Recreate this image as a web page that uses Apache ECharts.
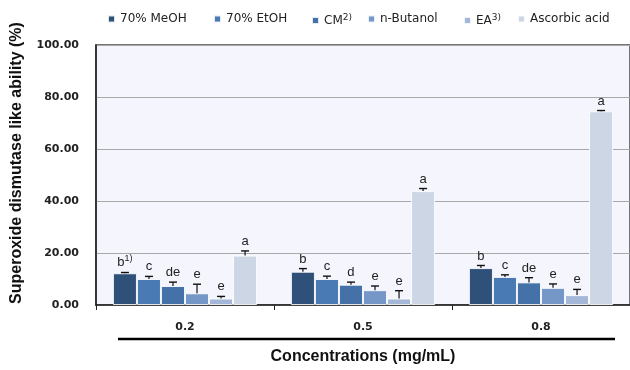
<!DOCTYPE html>
<html><head><meta charset="utf-8">
<script src="https://cdn.jsdelivr.net/npm/echarts@6/dist/echarts.min.js"></script>
<style>html,body{margin:0;padding:0;background:#fff}#c{width:630px;height:370px}</style>
</head><body><div id="c"></div>
<script>
const categories = ['0.2', '0.5', '0.8'];
const seriesNames = ['70% MeOH', '70% EtOH', 'CM', 'n-Butanol', 'EA', 'Ascorbic acid'];
const meohVals = [12.2, 12.8, 14.2];
const etohVals = [10.0, 10.0, 10.8];
const cmVals = [7.3, 7.8, 8.7];
const butanolVals = [4.5, 5.7, 6.6];
const eaVals = [2.5, 2.5, 3.8];
const ascorbicVals = [19.0, 43.8, 74.5];
const meohErr = [0.3, 1.2, 1.0];
const etohErr = [1.0, 1.1, 0.8];
const cmErr = [1.5, 1.0, 1.8];
const butanolErr = [3.5, 1.6, 1.5];
const eaErr = [0.8, 3.0, 2.2];
const ascorbicErr = [1.8, 1.0, 0.3];
const meohLetters = ['b{s|1)}', 'b', 'b'];
const etohLetters = ['c', 'c', 'c'];
const cmLetters = ['de', 'd', 'de'];
const butanolLetters = ['e', 'e', 'e'];
const eaLetters = ['e', 'e', 'e'];
const ascorbicLetters = ['a', 'a', 'a'];
const yTicks = [0, 20, 40, 60, 80, 100];

const values = [meohVals, etohVals, cmVals, butanolVals, eaVals, ascorbicVals];
const errs = [meohErr, etohErr, cmErr, butanolErr, eaErr, ascorbicErr];
const letters = [meohLetters, etohLetters, cmLetters, butanolLetters, eaLetters, ascorbicLetters];
const colors = ['#2f5179', '#4a7ab3', '#4571a9', '#7597c7', '#a5b7d8', '#ccd6e5'];
const legendX = [107, 213, 311, 367, 463, 517];
const legendFmt = ['70% MeOH', '70% EtOH', 'CM{s|2)}', 'n-Butanol', 'EA{s|3)}', 'Ascorbic acid'];
const catGap = 0.19;

const chart = echarts.init(document.getElementById('c'), null, {renderer: 'canvas'});
const series = [];
seriesNames.forEach((n, i) => {
  series.push({
    name: n, type: 'bar', data: values[i], barGap: '0%', barCategoryGap: (catGap * 100) + '%',
    itemStyle: {color: colors[i], borderColor: 'rgba(255,255,255,0.85)', borderWidth: 1},
    emphasis: {disabled: true}, z: 2
  });
});
seriesNames.forEach((n, i) => {
  series.push({
    type: 'custom', z: 5, silent: true,
    data: values[i].map((v, ci) => [ci, v, errs[i][ci], letters[i][ci]]),
    encode: {x: 0, y: 1},
    renderItem: function (params, api) {
      const ci = api.value(0), v = api.value(1), e = api.value(2);
      const txt = letters[i][ci];
      const catW = api.size([1, 0])[0];
      const bw = catW * (1 - catGap) / 6;
      const cx = api.coord([ci, 0])[0] + (i - 2.5) * bw;
      const yb = api.coord([ci, v])[1];
      const yt = api.coord([ci, v + e])[1];
      return {type: 'group', children: [
        {type: 'line', shape: {x1: cx, y1: yb, x2: cx, y2: yt}, style: {stroke: '#111', lineWidth: 1.2}},
        {type: 'line', shape: {x1: cx - 4, y1: yt, x2: cx + 4, y2: yt}, style: {stroke: '#111', lineWidth: 1.4}},
        {type: 'text', x: cx, y: yt - 3, style: {text: txt, align: 'center', verticalAlign: 'bottom',
          font: '13px "Liberation Sans", sans-serif', fill: '#222',
          rich: {s: {fontSize: 9, fontFamily: 'Liberation Sans', padding: [0, 0, 6, 0], fill: '#222'}}}}
      ]};
    }
  });
});

const legends = seriesNames.map((n, i) => ({
  data: [n], left: legendX[i], top: 13, padding: 0, itemWidth: 7, itemHeight: 7, icon: 'rect',
  selectedMode: false, itemGap: 0,
  formatter: () => legendFmt[i],
  textStyle: {fontFamily: 'DejaVu Sans', fontSize: 12, color: '#222',
    rich: {s: {fontFamily: 'DejaVu Sans', fontSize: 9, color: '#222', padding: [0, 0, 6, 0]}}}
}));

chart.setOption({
  animation: false,
  legend: legends,
  grid: {left: 96, top: 45, right: -3, bottom: 64, show: true, backgroundColor: '#f5f6fd',
    borderColor: '#4a4a4a', borderWidth: 1.5},
  xAxis: {
    type: 'category', data: categories,
    axisLine: {lineStyle: {color: '#222', width: 1.5}},
    axisTick: {show: true, length: 5, lineStyle: {color: '#222'}},
    axisLabel: {margin: 17, fontFamily: 'DejaVu Sans', fontWeight: 'bold', fontSize: 11, color: '#222'},
    name: 'Concentrations (mg/mL)', nameLocation: 'middle', nameGap: 44,
    nameTextStyle: {fontFamily: 'Liberation Sans', fontWeight: 'bold', fontSize: 16, color: '#111'}
  },
  yAxis: {
    type: 'value', min: yTicks[0], max: yTicks[yTicks.length - 1], interval: 20,
    axisLine: {show: true, lineStyle: {color: '#222', width: 1.5}},
    axisTick: {show: false},
    splitLine: {lineStyle: {color: '#a8a8a8', width: 1.2}},
    axisLabel: {margin: 17, formatter: v => v.toFixed(2), fontFamily: 'DejaVu Sans', fontWeight: 'bold', fontSize: 11, color: '#222'},
    name: 'Superoxide dismutase like ability (%)', nameLocation: 'middle', nameGap: 71,
    nameTextStyle: {fontFamily: 'Liberation Sans', fontWeight: 'bold', fontSize: 16, color: '#111', padding: [0, 0, 0, 24]}
  },
  graphic: [{type: 'line', shape: {x1: 118, y1: 339, x2: 615, y2: 339}, style: {stroke: '#000', lineWidth: 2.5}, silent: true}],
  series: series
});
</script></body></html>
